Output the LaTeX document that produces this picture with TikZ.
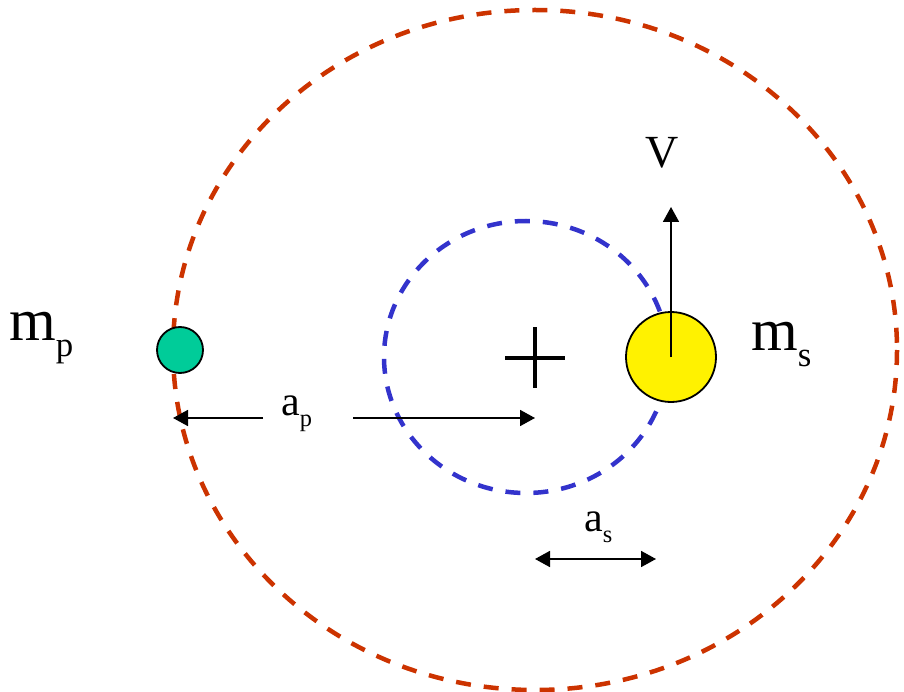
\documentclass[tikz,border=0pt]{standalone}
\usepackage{fontspec}
\setmainfont{Liberation Serif}
\usetikzlibrary{arrows.meta}
\definecolor{orbitred}{RGB}{204,51,0}
\definecolor{orbitblue}{RGB}{51,51,204}
\definecolor{planetgreen}{RGB}{0,204,153}
\newcommand{\massname}[3]{\fontsize{#3}{#3}\selectfont #1\raisebox{-0.27\dimexpr #3pt\relax}{\fontsize{0.58\dimexpr #3pt\relax}{1}\selectfont #2}}
\tikzset{
  orbit/.style={line width=4.5pt, dash pattern=on 15pt off 13pt},
  body/.style={draw, line width=1.8pt},
  vec/.style={line width=1.8pt, -{Triangle[length=15pt,width=16pt]}},
  lbl/.style={anchor=base west, inner sep=0pt}
}
\begin{document}
\begin{tikzpicture}[x=1pt, y=-1pt]
  \useasboundingbox (0,0) rectangle (904,692);
  % orbits
  \draw[orbit, orbitred] (535,350) ellipse [x radius=362, y radius=340];
  \draw[orbit, orbitblue] (526,357) ellipse [x radius=142, y radius=136];
  % centre of mass
  \draw[line width=4pt] (505,358) -- (565,358);
  \draw[line width=4pt] (535,327) -- (535,388);
  % bodies
  \node[body, circle, fill=planetgreen, minimum size=46pt, inner sep=0pt] (planet) at (180,350) {};
  \node[body, circle, fill=yellow, minimum size=90pt, inner sep=0pt] (star) at (671,357) {};
  \coordinate (vtip) at (671,207);
  \draw[vec] (star.center) -- (vtip);
  % labels
  \node[anchor=base, inner sep=0pt, font=\fontsize{46}{46}\selectfont] (vlab) at (662,168) {V};
  \node[lbl] (mp) at (9,340) {\massname{m}{p}{60}};
  \node[lbl] (ms) at (751,350) {\massname{m}{s}{60}};
  \node[lbl] (ap) at (281,415) {\massname{a}{p}{42}};
  \node[lbl] (as) at (584,531) {\massname{a}{s}{42}};
  % distances
  \coordinate (apleft) at (173,418);
  \coordinate (apright) at (535,418);
  \draw[vec] (263,418) -- (apleft);
  \draw[vec] (353,418) -- (apright);
  \coordinate (asleft) at (535,559);
  \coordinate (asright) at (656,559);
  \draw[vec, {Triangle[length=15pt,width=16pt]}-{Triangle[length=15pt,width=16pt]}] (asleft) -- (asright);
\end{tikzpicture}
\end{document}
